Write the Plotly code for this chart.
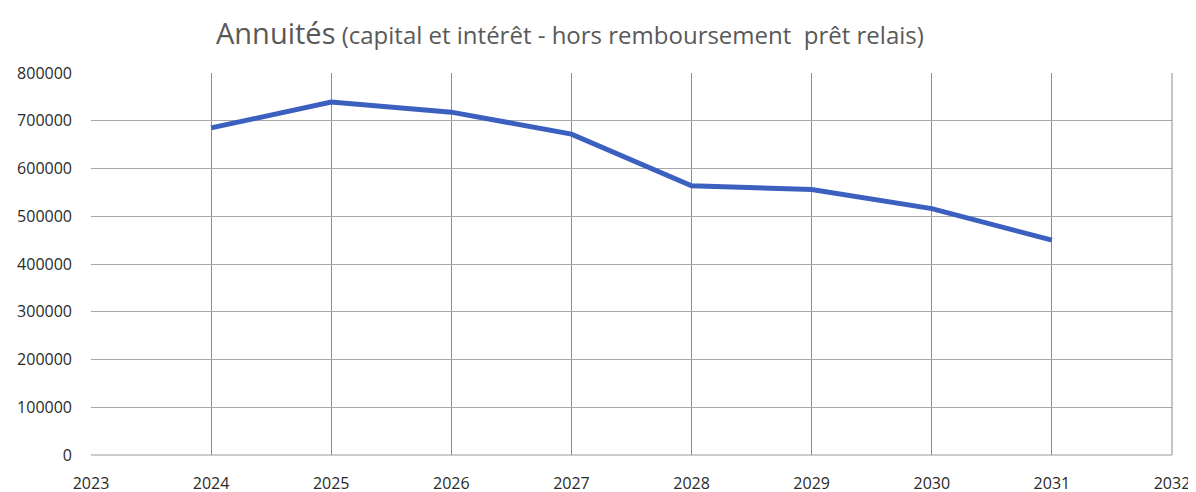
import plotly.graph_objects as go

years = [2024, 2025, 2026, 2027, 2028, 2029, 2030, 2031]
annuites = [685000, 739000, 718000, 672000, 564000, 556000, 516000, 450000]
title_main = "Annuités"
title_rest = " (capital et intérêt - hors remboursement  prêt relais)"

fig = go.Figure()
fig.add_trace(go.Scatter(
    x=years, y=annuites, mode="lines",
    line=dict(color="#3B60C0", width=5),
    showlegend=False,
))

W, H = 1196, 492
ml, mr, mt, mb = 83, 32, 65, 45

fig.update_layout(
    width=W, height=H,
    margin=dict(l=ml, r=mr, t=mt, b=mb, autoexpand=False),
    plot_bgcolor="white", paper_bgcolor="white",
    font=dict(family="Open Sans, Liberation Sans, sans-serif", size=14, color="#333333"),
)
fig.update_xaxes(
    range=[2023, 2032], tickmode="linear", tick0=2023, dtick=1,
    showgrid=True, gridcolor="#8c8c8c", gridwidth=1,
    zeroline=False, showline=False, automargin=False,
    ticks="", ticklabelstandoff=17,
    tickfont=dict(size=16, color="#2a2a2a"),
)
fig.update_yaxes(
    range=[0, 800000], tickmode="linear", tick0=0, dtick=100000,
    showgrid=True, gridcolor="#a8a8a8", gridwidth=1,
    zeroline=False, showline=False, ticks="", automargin=False,
    tickformat="d", ticklabelstandoff=18,
    tickfont=dict(size=16, color="#2a2a2a"),
)
fig.add_shape(type="line", xref="paper", yref="paper", x0=0, x1=1, y0=0, y1=0,
              line=dict(color="#9a9a9a", width=1))
fig.add_shape(type="line", xref="paper", yref="paper", x0=1, x1=1, y0=0, y1=1,
              line=dict(color="#8c8c8c", width=1))

pw = W - ml - mr
ph = H - mt - mb
fig.add_annotation(
    xref="paper", yref="paper",
    x=(562 - ml) / pw, y=(H - mb - 25) / ph,
    xanchor="center", yanchor="middle", showarrow=False,
    text="<span style='font-size:29px'>" + title_main + "</span><span style='font-size:24px'>" + title_rest + "</span>",
    font=dict(family="Open Sans, Liberation Sans, sans-serif", color="#595959"),
)

fig.write_html("out.html")
